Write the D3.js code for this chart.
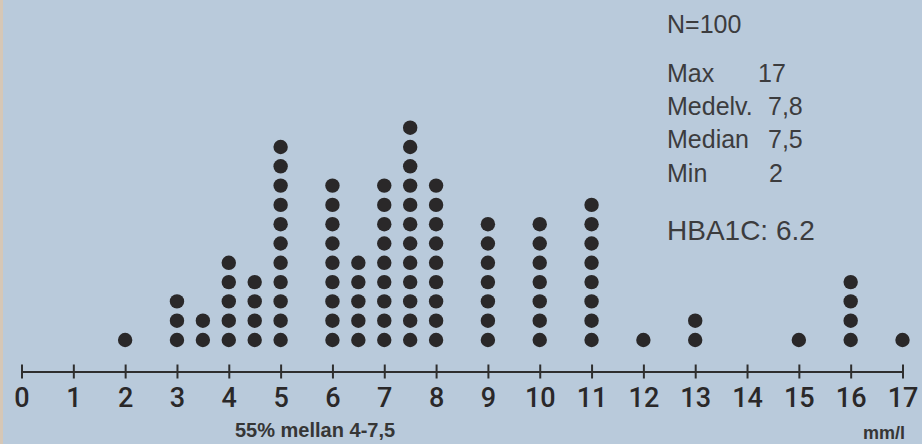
<!DOCTYPE html>
<html>
<head>
<meta charset="utf-8">
<script src="https://cdn.jsdelivr.net/npm/d3@7"></script>
<style>
  html, body { margin: 0; padding: 0; background: #b9cadb; }
  svg { display: block; }
</style>
</head>
<body>
<div id="chart"></div>
<script>
// values (mmol/l) and how many patients sit in each column
var values = [2, 3, 3.5, 4, 4.5, 5, 6, 6.5, 7, 7.5, 8, 9, 10, 11, 12, 13, 15, 16, 17];
var counts = [1, 3, 2, 5, 4, 11, 9, 5, 9, 12, 9, 7, 7, 8, 1, 2, 1, 4, 1];
var tickValues = d3.range(0, 18);

var statLabels = ["Max", "Medelv.", "Median", "Min"];
var statValues = ["17", "7,8", "7,5", "2"];
var nText = "N=100";
var hbaText = "HBA1C: 6.2";
var rangeNote = "55% mellan 4-7,5";
var unitText = "mm/l";

var w = 922, h = 444;

var svg = d3.select("#chart").append("svg")
    .attr("width", w)
    .attr("height", h);

svg.append("rect").attr("width", w).attr("height", h).attr("fill", "#b9cadb");
// thin paper edge at the left
svg.append("rect").attr("width", 3).attr("height", h).attr("fill", "#d6c7b6");

var x = d3.scaleLinear().domain([0, 17]).range([21.5, 902.5]);
var y = d3.scaleLinear().domain([0, 11]).range([340, 340 - 11 * 19.3]);

// flatten columns into single dots
var dots = [];
values.forEach(function(v, i) {
    for (var k = 0; k < counts[i]; k++) dots.push({ v: v, k: k });
});

svg.selectAll("circle.dot")
    .data(dots)
    .enter()
    .append("circle")
    .attr("class", "dot")
    .attr("cx", function(d) { return x(d.v); })
    .attr("cy", function(d) { return y(d.k); })
    .attr("r", 7.2)
    .attr("fill", "#2a2829");

// axis
var axis = d3.axisBottom(x)
    .tickValues(tickValues)
    .tickSizeInner(0)
    .tickSizeOuter(0)
    .tickPadding(0)
    .tickFormat(d3.format("d"));

var ax = svg.append("g")
    .attr("transform", "translate(0,371.5)")
    .call(axis);

ax.select(".domain").attr("stroke", "#2e2e2e").attr("stroke-width", 2.2);
ax.selectAll(".tick line")
    .attr("y1", -7).attr("y2", 7)
    .attr("stroke", "#2e2e2e").attr("stroke-width", 2);
ax.selectAll(".tick text")
    .attr("dy", null)
    .attr("y", 35)
    .attr("fill", "#2a2829")
    .style("font-family", "Roboto, 'Liberation Sans', sans-serif")
    .style("font-weight", 500)
    .style("font-size", "27px");

svg.append("text")
    .attr("x", 235).attr("y", 437)
    .attr("fill", "#363636")
    .style("font-family", "'Liberation Sans', Arial, sans-serif")
    .style("font-weight", "bold")
    .style("font-size", "20px")
    .text(rangeNote);

svg.append("text")
    .attr("x", 905).attr("y", 439)
    .attr("text-anchor", "end")
    .attr("fill", "#363636")
    .style("font-family", "'Liberation Sans', Arial, sans-serif")
    .style("font-weight", "bold")
    .style("font-size", "18px")
    .text(unitText);

// stats box
var stats = svg.append("g")
    .attr("fill", "#3c3c3e")
    .style("font-family", "'Liberation Sans', Arial, sans-serif")
    .style("font-size", "25px");

stats.append("text").attr("x", 667).attr("y", 33).text(nText);

var valX = [758, 768, 768, 769];
var rowY = [82, 115, 148, 182];
statLabels.forEach(function(lab, i) {
    stats.append("text").attr("x", 667).attr("y", rowY[i]).text(lab);
    stats.append("text").attr("x", valX[i]).attr("y", rowY[i]).text(statValues[i]);
});

stats.append("text")
    .attr("x", 667).attr("y", 240)
    .style("font-size", "28px")
    .text(hbaText);
</script>
</body>
</html>
